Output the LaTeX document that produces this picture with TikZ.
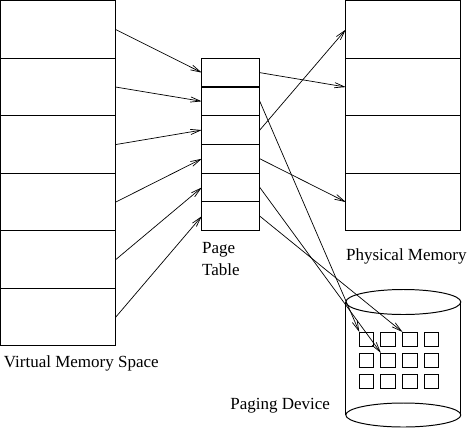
\documentclass[tikz,border=0pt]{standalone}
\usepackage{fontspec}
\setmainfont{Liberation Serif}
\usetikzlibrary{positioning, arrows.meta}

\begin{document}
\begin{tikzpicture}[
    >={Straight Barb[length=2.5mm, width=1.3mm]},
    node distance=0cm,
    vcell/.style={draw, line width=0.8pt, outer sep=0pt, inner sep=0pt, minimum width=2.875cm, minimum height=1.4375cm},
    pcell/.style={draw, line width=0.8pt, outer sep=0pt, inner sep=0pt, minimum width=1.45cm, minimum height=0.7175cm},
    dcell/.style={draw, line width=0.7pt, outer sep=0pt, inner sep=0pt, minimum size=0.3625cm, anchor=north west},
    caption/.style={inner sep=0pt, align=left, font=\fontsize{12.1}{15}\selectfont},
    arrow/.style={->, line width=0.5pt},
]
\useasboundingbox (0,0) rectangle (11.7,-10.8);

% Virtual memory space
\node[vcell, anchor=north west] (v1) at (0.02,-0.02) {};
\foreach \i [count=\j from 2] in {1,...,5}
    \node[vcell, below=of v\i] (v\j) {};
\node[caption, below=0.25cm of v6.south west, anchor=north west, xshift=0.07cm] (vmlab) {Virtual Memory Space};

% Page table
\node[pcell, right=2.15cm of v2.north east, anchor=north west] (p1) {};
\foreach \i [count=\j from 2] in {1,...,5}
    \node[pcell, below=of p\i] (p\j) {};
\node[caption, below=0.3cm of p6.south west, anchor=north west] (ptlab) {Page\\Table};

% Physical memory
\node[vcell, right=5.75cm of v1.north east, anchor=north west] (m1) {};
\foreach \i [count=\j from 2] in {1,...,3}
    \node[vcell, below=of m\i] (m\j) {};
\node[caption, below=0.45cm of m4.south west, anchor=north west] (pmlab) {Physical Memory};

% Paging device
\coordinate[below=1.78cm of m4.south] (dtop);
\draw[line width=0.7pt] (dtop) ellipse (1.4375cm and 0.3125cm);
\draw[line width=0.7pt] ([yshift=-2.825cm]dtop) ellipse (1.4375cm and 0.3cm);
\draw[line width=0.7pt] ([xshift=-1.4375cm]dtop) -- ++(0,-2.825);
\draw[line width=0.7pt] ([xshift=1.4375cm]dtop) -- ++(0,-2.825);
\foreach \r in {1,2,3}
    \foreach \c in {1,...,4}
        \node[dcell] (c\r\c) at ([shift={({\c*0.54-1.64},{-0.225-\r*0.525})}]dtop) {};
\node[caption, anchor=north east] (pdlab) at ([shift={(-1.825,-2.4)}]dtop) {Paging Device};

% Virtual pages -> page table
\foreach \i in {1,...,6}
    \draw[arrow] (v\i.east) -- (p\i.west);

% Page table -> frames
\draw[arrow] (p1.east) -- (m2.west);
\draw[arrow] (p3.east) -- (m1.west);
\draw[arrow] (p4.east) -- (m4.west);

% Page table -> paging device
\draw[arrow] (p2.east) -- (c11.north west);
\draw[arrow] (p5.east) -- (c22.north west);
\draw[arrow] (p6.east) -- (c13.north west);

\end{tikzpicture}
\end{document}
